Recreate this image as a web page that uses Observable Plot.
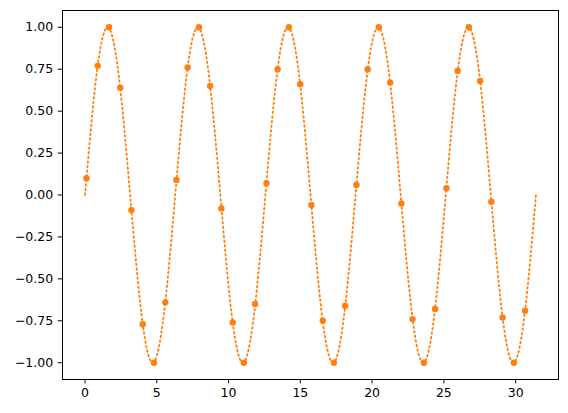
<!DOCTYPE html>
<html><head><meta charset="utf-8">
<script src="https://cdn.jsdelivr.net/npm/d3@7"></script>
<script src="https://cdn.jsdelivr.net/npm/@observablehq/plot@0.6"></script>
<style>html,body{margin:0;padding:0;background:#fff}</style>
</head><body><div id="chart"></div><script>
// Dotted curve samples
const lineX = [0,0.785,1.571,2.356,3.142,3.927,4.712,5.498,6.283,7.069,7.854,8.639,9.425,10.21,10.996,11.781,12.566,13.352,14.137,14.923,15.708,16.493,17.279,18.064,18.85,19.635,20.42,21.206,21.991,22.777,23.562,24.347,25.133,25.918,26.704,27.489,28.274,29.06,29.845,30.631,31.416];
const lineY = [0,0.707,1,0.707,0,-0.707,-1,-0.707,0,0.707,1,0.707,0,-0.707,-1,-0.707,0,0.707,1,0.707,0,-0.707,-1,-0.707,0,0.707,1,0.707,0,-0.707,-1,-0.707,0,0.707,1,0.707,0,-0.707,-1,-0.707,0];
// Scatter points
const pointX = [0.1,0.88,1.67,2.45,3.23,4.02,4.8,5.59,6.37,7.15,7.94,8.72,9.5,10.29,11.07,11.85,12.64,13.42,14.2,14.99,15.77,16.56,17.34,18.12,18.91,19.69,20.47,21.26,22.04,22.82,23.61,24.39,25.18,25.96,26.74,27.53,28.31,29.09,29.88,30.66];
const pointY = [0.1,0.77,1.0,0.64,-0.09,-0.77,-1.0,-0.64,0.09,0.76,1.0,0.65,-0.08,-0.76,-1.0,-0.65,0.07,0.75,1.0,0.66,-0.06,-0.75,-1.0,-0.66,0.06,0.75,1.0,0.67,-0.05,-0.74,-1.0,-0.68,0.04,0.74,1.0,0.68,-0.04,-0.73,-1.0,-0.69];
const xTicks = [0,5,10,15,20,25,30];
const yTicks = [-1,-0.75,-0.5,-0.25,0,0.25,0.5,0.75,1];

const lineData = lineX.map((x,i)=>({x, y: lineY[i]}));
const pointData = pointX.map((x,i)=>({x, y: pointY[i]}));
const minus = s => s.replace("-", "\u2212");

const chart = Plot.plot({
  width: 568, height: 413,
  marginLeft: 62, marginRight: 10, marginTop: 10, marginBottom: 34,
  style: {fontFamily: "DejaVu Sans", fontSize: "12px", color: "#000", background: "#fff"},
  x: {domain: [-1.571, 32.987]},
  y: {domain: [-1.1, 1.1]},
  marks: [
    Plot.line(lineData, {x: "x", y: "y", curve: "natural", stroke: "#ff7f0e", strokeWidth: 1.8, strokeDasharray: "1.6,3"}),
    Plot.dot(pointData, {x: "x", y: "y", r: 3.2, fill: "#ff7f0e"}),
    Plot.frame({stroke: "#000", strokeWidth: 1}),
    Plot.axisX({ticks: xTicks, tickSize: 4.3, tickPadding: 4, fontSize: 12.5, tickFormat: d => String(d), label: null}),
    Plot.axisY({ticks: yTicks, tickSize: 4.3, tickPadding: 5, fontSize: 12.5, tickFormat: d => minus(d.toFixed(2)), label: null})
  ]
});
document.getElementById("chart").appendChild(chart);
</script></body></html>
